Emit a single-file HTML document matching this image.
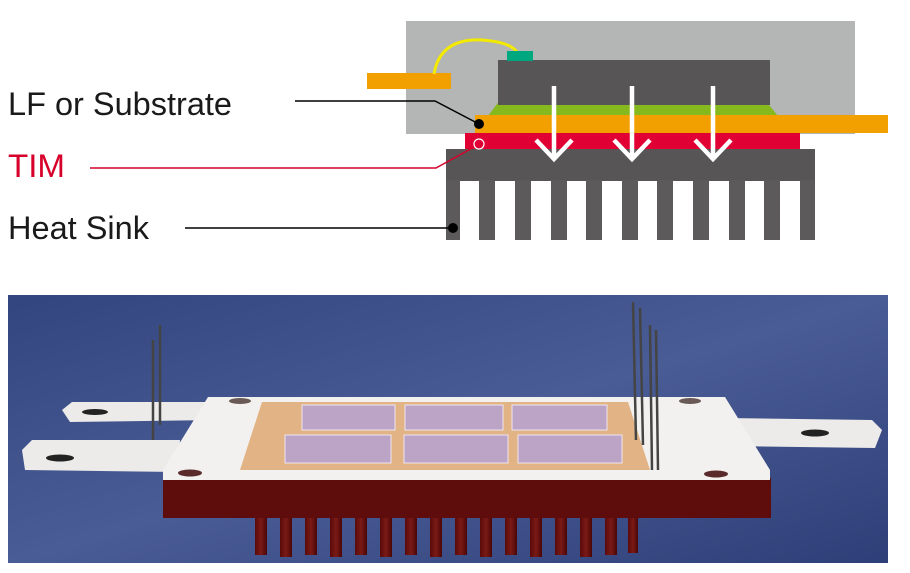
<!DOCTYPE html>
<html><head><meta charset="utf-8"><style>
html,body{margin:0;padding:0;background:#fff;width:910px;height:573px;overflow:hidden}
svg{display:block}
</style></head><body>
<svg width="910" height="573" viewBox="0 0 910 573" xmlns="http://www.w3.org/2000/svg">
<defs>
<linearGradient id="bg" x1="0" y1="0" x2="1" y2="1">
<stop offset="0" stop-color="#33457e"/><stop offset="0.5" stop-color="#4a5c95"/><stop offset="1" stop-color="#2e3f78"/>
</linearGradient>
<linearGradient id="fin" x1="0" y1="0" x2="1" y2="0">
<stop offset="0" stop-color="#5a0a0a"/><stop offset="0.5" stop-color="#7a1a16"/><stop offset="1" stop-color="#4a0606"/>
</linearGradient>
</defs>
<!-- top diagram -->
<rect x="406" y="21" width="449" height="113" fill="#b4b5b5"/>
<rect x="367" y="73" width="84" height="16" fill="#f29f00"/>
<path d="M434 74 Q440 38 482 40 Q510 42 517 52" fill="none" stroke="#f3ea00" stroke-width="3"/>
<polygon points="488,116 500,100 765,100 778,116" fill="#85b91d"/>
<rect x="498" y="60" width="272" height="45" fill="#575556"/>
<rect x="507" y="51" width="26" height="10" fill="#00a87f"/>
<rect x="475" y="115" width="413" height="18" fill="#f2a000"/>
<rect x="465" y="133" width="335" height="16" fill="#e00034"/>
<rect x="446" y="149" width="369" height="32" fill="#575556"/>
<g fill="#5c5a5b">
<rect x="446" y="180" width="14" height="60"/>
<rect x="479" y="180" width="16" height="60"/>
<rect x="515" y="180" width="16" height="60"/>
<rect x="551" y="180" width="16" height="60"/>
<rect x="586" y="180" width="16" height="60"/>
<rect x="622" y="180" width="16" height="60"/>
<rect x="657" y="180" width="16" height="60"/>
<rect x="693" y="180" width="16" height="60"/>
<rect x="729" y="180" width="16" height="60"/>
<rect x="764" y="180" width="16" height="60"/>
<rect x="800" y="180" width="15" height="60"/>
</g>
<g stroke="#fff" stroke-width="4.5" fill="none">
<path d="M554 86 V159 M536 140 L554 159 L572 140"/>
<path d="M632 86 V159 M614 140 L632 159 L650 140"/>
<path d="M713 86 V159 M695 140 L713 159 L731 140"/>
</g>
<path d="M295 101 H435 L479 124" stroke="#000" stroke-width="1.5" fill="none"/>
<circle cx="479" cy="124" r="5" fill="#000"/>
<path d="M90 168 H436 L476 146" stroke="#d6002a" stroke-width="1.5" fill="none"/>
<circle cx="479" cy="144" r="5" fill="#e00034" stroke="#fff" stroke-width="1.2"/>
<path d="M185 228 H453" stroke="#000" stroke-width="1.5"/>
<circle cx="453" cy="228" r="5" fill="#000"/>
<g font-family="Liberation Sans, sans-serif" font-size="32">
<text x="8" y="115" fill="#1a1a1a" textLength="224" lengthAdjust="spacingAndGlyphs">LF or Substrate</text>
<text x="8" y="177" fill="#d6002a" textLength="57" lengthAdjust="spacingAndGlyphs">TIM</text>
<text x="8" y="239" fill="#1a1a1a" textLength="141" lengthAdjust="spacingAndGlyphs">Heat Sink</text>
</g>
<!-- bottom photo -->
<rect x="8" y="295" width="880" height="268" fill="url(#bg)"/>
<g fill="url(#fin)">
<rect x="255" y="515" width="12" height="40"/><rect x="280" y="515" width="12" height="42"/>
<rect x="305" y="515" width="12" height="40"/><rect x="330" y="515" width="12" height="42"/>
<rect x="355" y="515" width="12" height="40"/><rect x="380" y="515" width="12" height="42"/>
<rect x="405" y="515" width="12" height="40"/><rect x="430" y="515" width="12" height="42"/>
<rect x="455" y="515" width="12" height="40"/><rect x="480" y="515" width="12" height="42"/>
<rect x="505" y="515" width="12" height="40"/><rect x="530" y="515" width="12" height="42"/>
<rect x="555" y="515" width="12" height="40"/><rect x="580" y="515" width="12" height="42"/>
<rect x="605" y="515" width="12" height="40"/><rect x="628" y="515" width="10" height="38"/>
</g>
<rect x="163" y="478" width="608" height="40" fill="#5e0c0c"/>
<polygon points="62,410 72,402 210,402 215,420 70,422" fill="#ecebea"/>
<polygon points="22,450 32,440 180,440 178,472 25,470" fill="#ecebea"/>
<polygon points="725,418 872,420 882,430 875,448 730,446" fill="#ecebea"/>
<ellipse cx="95" cy="412" rx="13" ry="3" fill="#222"/>
<ellipse cx="60" cy="458" rx="14" ry="3.5" fill="#222"/>
<ellipse cx="815" cy="433" rx="14" ry="3.5" fill="#222"/>
<polygon points="208,397 725,397 770,470 770,480 163,480 163,470" fill="#f2f1ef"/>
<polygon points="262,402 628,402 650,470 240,470" fill="#e2b384"/>
<g fill="#bba4c6" stroke="#efe6f2" stroke-width="1">
<rect x="302" y="405" width="93" height="25"/><rect x="405" y="405" width="98" height="25"/><rect x="512" y="405" width="95" height="25"/>
<rect x="285" y="435" width="106" height="28"/><rect x="404" y="435" width="104" height="28"/><rect x="518" y="435" width="104" height="28"/>
</g>
<ellipse cx="240" cy="401" rx="11" ry="3" fill="#6a5a55"/>
<ellipse cx="690" cy="401" rx="11" ry="3" fill="#6a5a55"/>
<ellipse cx="190" cy="473" rx="12" ry="3.5" fill="#5a2a2a"/>
<ellipse cx="716" cy="474" rx="12" ry="3.5" fill="#5a2a2a"/>
<g stroke="#444" stroke-width="2.5">
<line x1="153" y1="340" x2="153" y2="440"/><line x1="160" y1="325" x2="160" y2="425"/>
<line x1="633" y1="302" x2="636" y2="440"/><line x1="640" y1="308" x2="643" y2="445"/>
<line x1="650" y1="325" x2="652" y2="470"/><line x1="656" y1="330" x2="658" y2="470"/>
</g>
</svg>
</body></html>
